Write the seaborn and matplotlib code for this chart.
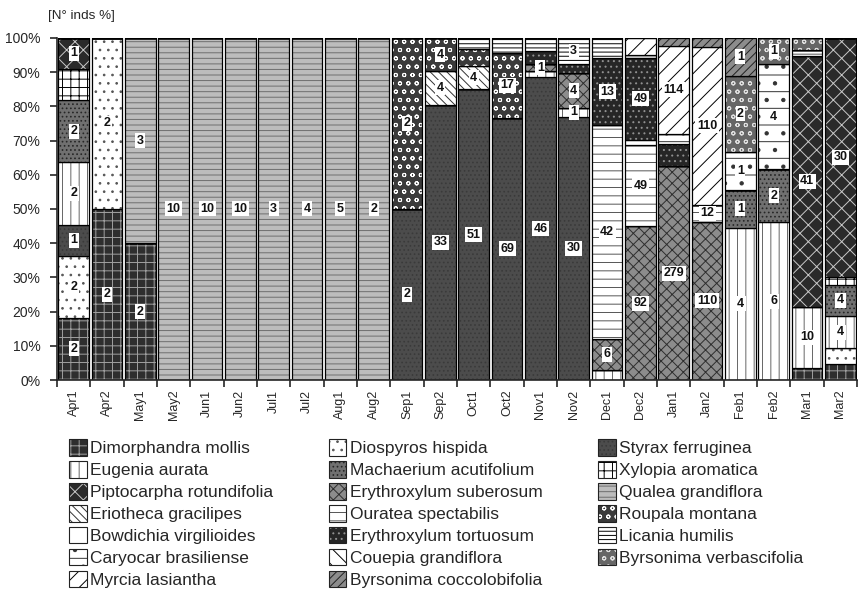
import numpy as np
import pandas as pd
import matplotlib
matplotlib.use('Agg')
import matplotlib.pyplot as plt
from matplotlib.patches import Patch
import seaborn as sns

sns.set_style('ticks')
plt.rcParams['font.family'] = ['Liberation Sans', 'DejaVu Sans']
plt.rcParams['hatch.linewidth'] = 0.7

# sampling periods (x categories)
months = ['Apr1', 'Apr2', 'May1', 'May2', 'Jun1', 'Jun2', 'Jul1', 'Jul2', 'Aug1', 'Aug2',
          'Sep1', 'Sep2', 'Oct1', 'Oct2', 'Nov1', 'Nov2', 'Dec1', 'Dec2', 'Jan1', 'Jan2',
          'Feb1', 'Feb2', 'Mar1', 'Mar2']

# number of individuals per species and period (stacking order, bottom to top)
#                 Ap1 Ap2 My1 My2 Jn1 Jn2 Jl1 Jl2 Au1 Au2 Se1 Se2 Oc1 Oc2 No1 No2 De1 De2 Ja1  Ja2  Fe1 Fe2 Mr1 Mr2
dimorphandra   = [2,  2,  2,  0,  0,  0,  0,  0,  0,  0,  0,  0,  0,  0,  0,  0,  0,  0,  0,   0,   0,  0,  2,  2]
diospyros      = [2,  2,  0,  0,  0,  0,  0,  0,  0,  0,  0,  0,  0,  0,  0,  0,  0,  0,  0,   0,   0,  0,  0,  2]
styrax         = [1,  0,  0,  0,  0,  0,  0,  0,  0,  0,  2,  33, 51, 69, 46, 30, 0,  0,  0,   0,   0,  0,  0,  0]
eugenia        = [2,  0,  0,  0,  0,  0,  0,  0,  0,  0,  0,  0,  0,  0,  1,  1,  2,  0,  0,   0,   4,  6,  10, 4]
machaerium     = [2,  0,  0,  0,  0,  0,  0,  0,  0,  0,  0,  0,  0,  0,  0,  0,  0,  0,  0,   0,   1,  2,  0,  4]
xylopia        = [1,  0,  0,  0,  0,  0,  0,  0,  0,  0,  0,  0,  0,  0,  0,  0,  0,  0,  0,   0,   0,  0,  0,  1]
piptocarpha    = [1,  0,  0,  0,  0,  0,  0,  0,  0,  0,  0,  0,  0,  0,  0,  0,  0,  0,  0,   0,   0,  0,  41, 30]
ery_suberosum  = [0,  0,  0,  0,  0,  0,  0,  0,  0,  0,  0,  0,  0,  0,  1,  4,  6,  92, 279, 110, 0,  0,  0,  0]
qualea         = [0,  0,  3,  10, 10, 10, 3,  4,  5,  2,  0,  0,  0,  0,  0,  0,  0,  0,  0,   0,   0,  0,  0,  0]
eriotheca      = [0,  0,  0,  0,  0,  0,  0,  0,  0,  0,  0,  4,  4,  0,  0,  0,  0,  0,  0,   0,   0,  0,  0,  0]
ouratea        = [0,  0,  0,  0,  0,  0,  0,  0,  0,  0,  0,  0,  0,  0,  0,  0,  42, 49, 0,   12,  0,  0,  1,  0]
roupala        = [0,  0,  0,  0,  0,  0,  0,  0,  0,  0,  2,  4,  3,  17, 0,  0,  0,  0,  0,   0,   0,  0,  0,  0]
bowdichia      = [0,  0,  0,  0,  0,  0,  0,  0,  0,  0,  0,  0,  0,  0,  0,  0,  0,  3,  0,   0,   0,  0,  0,  0]
ery_tortuosum  = [0,  0,  0,  0,  0,  0,  0,  0,  0,  0,  0,  0,  0,  0,  2,  1,  13, 49, 30,  0,   0,  0,  0,  0]
licania        = [0,  0,  0,  0,  0,  0,  0,  0,  0,  0,  0,  0,  2,  4,  2,  3,  4,  0,  0,   0,   0,  0,  0,  0]
caryocar       = [0,  0,  0,  0,  0,  0,  0,  0,  0,  0,  0,  0,  0,  0,  0,  0,  0,  2,  13,  0,   1,  4,  0,  0]
couepia        = [0,  0,  0,  0,  0,  0,  0,  0,  0,  0,  0,  0,  0,  0,  0,  0,  0,  0,  0,   0,   0,  0,  0,  0]
byrs_verb      = [0,  0,  0,  0,  0,  0,  0,  0,  0,  0,  0,  0,  0,  0,  0,  0,  0,  0,  0,   0,   2,  1,  2,  0]
myrcia         = [0,  0,  0,  0,  0,  0,  0,  0,  0,  0,  0,  0,  0,  0,  0,  0,  0,  10, 114, 110, 0,  0,  0,  0]
byrs_cocc      = [0,  0,  0,  0,  0,  0,  0,  0,  0,  0,  0,  0,  0,  0,  0,  0,  0,  0,  11,  6,   1,  0,  0,  0]

species = ['Dimorphandra mollis', 'Diospyros hispida', 'Styrax ferruginea',
           'Eugenia aurata', 'Machaerium acutifolium', 'Xylopia aromatica',
           'Piptocarpha rotundifolia', 'Erythroxylum suberosum', 'Qualea grandiflora',
           'Eriotheca gracilipes', 'Ouratea spectabilis', 'Roupala montana',
           'Bowdichia virgilioides', 'Erythroxylum tortuosum', 'Licania humilis',
           'Caryocar brasiliense', 'Couepia grandiflora', 'Byrsonima verbascifolia',
           'Myrcia lasiantha', 'Byrsonima coccolobifolia']
counts = [dimorphandra, diospyros, styrax, eugenia, machaerium, xylopia, piptocarpha,
          ery_suberosum, qualea, eriotheca, ouratea, roupala, bowdichia, ery_tortuosum,
          licania, caryocar, couepia, byrs_verb, myrcia, byrs_cocc]

# fill styles: (face colour, hatch, hatch colour)
styles = {
    'Dimorphandra mollis': ('#2e2e2e', '++', '#a0a0a0'),
    'Diospyros hispida': ('white', '..', '#555555'),
    'Styrax ferruginea': ('#4c4c4c', '....', '#3a3a3a'),
    'Eugenia aurata': ('white', '||', '#666666'),
    'Machaerium acutifolium': ('#707070', '....', '#262626'),
    'Xylopia aromatica': ('white', '++', 'black'),
    'Piptocarpha rotundifolia': ('#2a2a2a', 'xx', '#c8c8c8'),
    'Erythroxylum suberosum': ('#8c8c8c', 'xxx', '#2e2e2e'),
    'Qualea grandiflora': ('#bcbcbc', '---', '#6e6e6e'),
    'Eriotheca gracilipes': ('white', '\\\\\\\\', '#333333'),
    'Ouratea spectabilis': ('white', '--', '#555555'),
    'Roupala montana': ('#3a3a3a', 'oo', 'white'),
    'Bowdichia virgilioides': ('white', '', 'black'),
    'Erythroxylum tortuosum': ('#262626', '...', '#909090'),
    'Licania humilis': ('white', '----', 'black'),
    'Caryocar brasiliense': ('white', '-.', '#333333'),
    'Couepia grandiflora': ('white', '\\\\', 'black'),
    'Byrsonima verbascifolia': ('#666666', 'oo', '#e0e0e0'),
    'Myrcia lasiantha': ('white', '//', 'black'),
    'Byrsonima coccolobifolia': ('#8c8c8c', '////', '#222222'),
}

# segments without a number in the original / small ones that do carry a number
no_label = {('Apr1', 'Xylopia aromatica'), ('Dec1', 'Licania humilis'),
            ('Jan1', 'Erythroxylum tortuosum')}
force_label = {('Nov1', 'Erythroxylum suberosum'), ('Nov2', 'Eugenia aurata'),
               ('Jan2', 'Ouratea spectabilis')}

totals = np.sum(np.array(counts), axis=0)

fig = plt.figure(figsize=(8.58, 5.95), dpi=100)
ax = fig.add_axes([0.0664, 0.3613, 0.9326, 0.575])

bottom = np.zeros(len(months))
for name, vals in zip(species, counts):
    pct = np.array(vals) / totals * 100
    df = pd.DataFrame({'month': months, 'pct': pct})
    face, hatch, hcol = styles[name]
    sns.barplot(data=df, x='month', y='pct', order=months, color=face, saturation=1,
                errorbar=None, width=0.92, bottom=bottom, hatch=hatch,
                edgecolor=hcol, linewidth=0, ax=ax)
    sns.barplot(data=df, x='month', y='pct', order=months, color='black', fill=False,
                errorbar=None, width=0.92, bottom=bottom, linewidth=0.9, ax=ax)
    for i, m in enumerate(months):
        show = (pct[i] >= 5.5 and (m, name) not in no_label) or (m, name) in force_label
        if vals[i] > 0 and show:
            ax.text(i, bottom[i] + pct[i] / 2, str(vals[i]), ha='center', va='center',
                    fontsize=9, fontweight='bold', color='#111111',
                    bbox=dict(boxstyle='square,pad=0.12', fc='white', ec='none'))
    bottom = bottom + pct

ax.set_xlim(-0.5, len(months) - 0.5)
ax.set_ylim(0, 100)
ax.set_yticks(np.arange(0, 101, 10))
ax.set_yticklabels([f'{v}%' for v in range(0, 101, 10)], fontsize=10)
ax.set_xticks(np.arange(len(months)))
ax.set_xticklabels(months, rotation=90, fontsize=9)
ax.set_xticks(np.arange(len(months) + 1) - 0.5, minor=True)
ax.tick_params(axis='x', which='major', length=0, pad=7)
ax.tick_params(axis='x', which='minor', length=5, width=1.2, direction='out')
ax.tick_params(axis='y', length=5, width=1.2, direction='out', pad=7)
ax.set_xlabel('')
ax.set_ylabel('')
sns.despine(ax=ax)
for side in ['left', 'bottom']:
    ax.spines[side].set_linewidth(1.2)

fig.text(0.056, 0.973, '[N° inds %]', fontsize=9.7, ha='left', va='center')

# legend, laid out column by column like the original
handles = []
for name in species:
    face, hatch, hcol = styles[name]
    handles.append((Patch(facecolor=face, hatch=hatch, edgecolor=hcol, linewidth=0),
                    Patch(fill=False, edgecolor='#222222', linewidth=0.8)))
idx = sorted(range(len(species)), key=lambda k: (k % 3, k // 3))
leg = fig.legend([handles[k] for k in idx], [species[k] for k in idx],
                 loc='upper left', bbox_to_anchor=(0.081, 0.262), ncol=3, frameon=False,
                 fontsize=12.5, handlelength=1.0, handleheight=1.1, handletextpad=0.2,
                 labelspacing=0.27, columnspacing=3.2, borderpad=0, borderaxespad=0)

fig.savefig('out.png', dpi=100)
